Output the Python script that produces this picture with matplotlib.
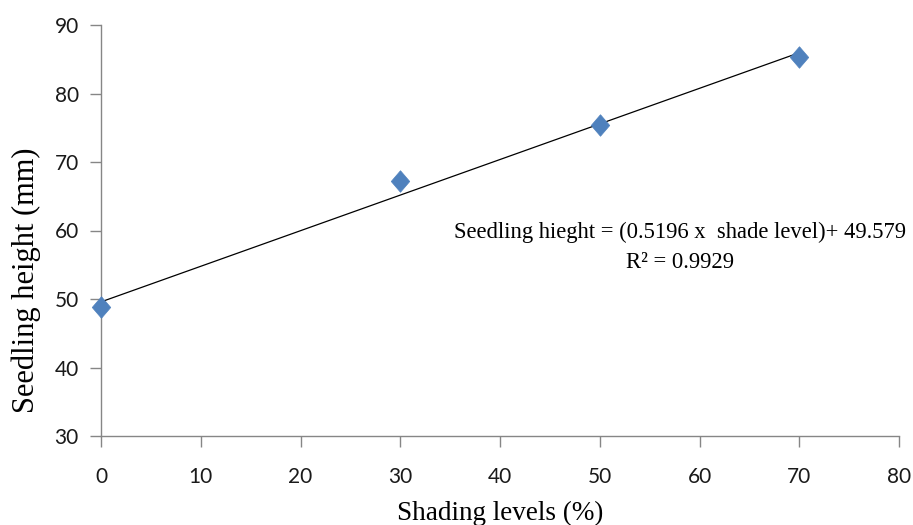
import matplotlib
matplotlib.use("Agg")
import matplotlib.pyplot as plt
import numpy as np

shade = [0, 30, 50, 70]
height = [48.9, 67.2, 75.4, 85.3]
slope = 0.5196
intercept = 49.579
r2 = 0.9929
xticks = [0, 10, 20, 30, 40, 50, 60, 70, 80]
yticks = [30, 40, 50, 60, 70, 80, 90]

fig = plt.figure(figsize=(9.13, 5.25), dpi=100)
ax = fig.add_axes([101/913, 1-436/525, 798/913, 411/525])

diamond = [(0, 1), (0.86, 0), (0, -1), (-0.86, 0), (0, 1)]
xl = np.array([min(shade), max(shade)])
ax.plot(xl, slope*xl + intercept, color='black', lw=0.9, zorder=2)
ax.plot(shade, height, linestyle='none', marker=diamond, ms=15.5,
        color='#4F81BD', markeredgecolor='#4F81BD', markeredgewidth=0.5,
        zorder=3, clip_on=False)

ax.set_xlim(0, 80)
ax.set_ylim(30, 90)
ax.set_xticks(xticks)
ax.set_yticks(yticks)
for s in ['top', 'right']:
    ax.spines[s].set_visible(False)
for s in ['left', 'bottom']:
    ax.spines[s].set_color('#868686')
    ax.spines[s].set_linewidth(1.0)
    ax.spines[s].set_zorder(1)
ax.tick_params(axis='both', direction='out', length=8, width=1.0, color='#868686',
               labelsize=15, labelcolor='#1a1a1a')
ax.tick_params(axis='y', pad=8)
ax.tick_params(axis='x', pad=14)
for lab in ax.get_xticklabels() + ax.get_yticklabels():
    lab.set_family('Lato')

fig.text(500/913, 1-520/525, 'Shading levels (%)', ha='center', va='baseline',
         family='Liberation Serif', fontsize=19.5)
fig.text(26/913, 1-280/525, 'Seedling height (mm)', ha='center', va='center',
         rotation=90, family='Liberation Serif', fontsize=22)

fig.text(680/913, 1-238/525, 'Seedling hieght = (0.5196 x  shade level)+ 49.579',
         ha='center', va='baseline', family='Liberation Serif', fontsize=16.3)
fig.text(680/913, 1-268/525, 'R² = 0.9929', ha='center', va='baseline',
         family='Liberation Serif', fontsize=16.3)

fig.savefig('out.png', dpi=100)
